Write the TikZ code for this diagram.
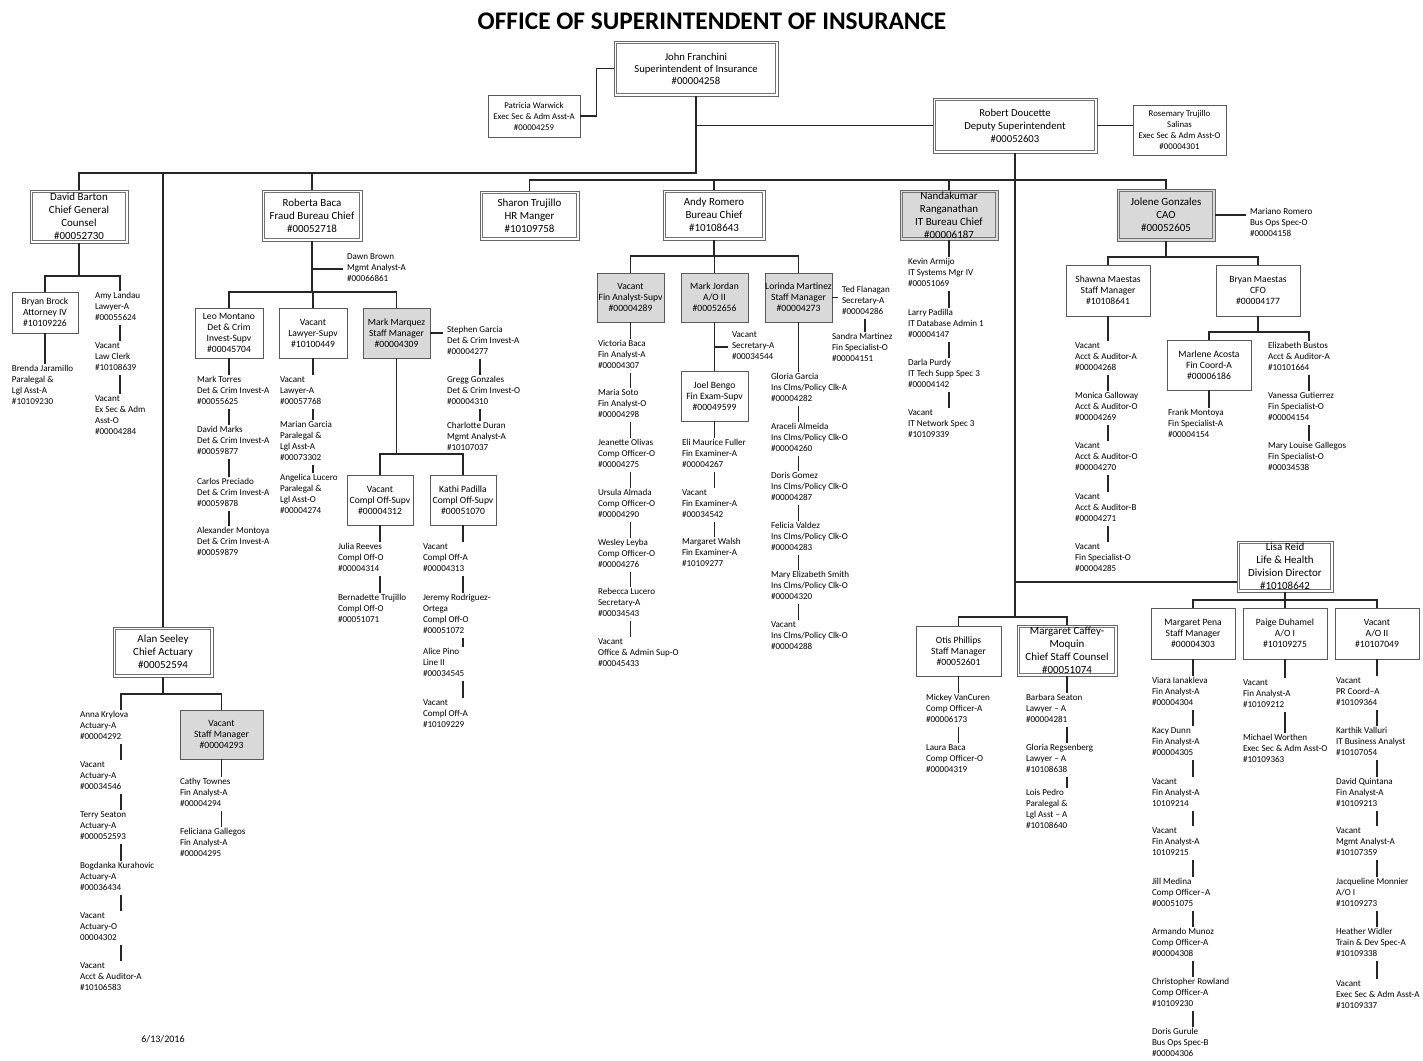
\documentclass[tikz,border=0pt]{standalone}
\usepackage{fontspec}
\setmainfont{Carlito}
\tikzset{
  sbox/.style={draw=black!65, line width=0.5pt, fill=white, align=center, inner sep=0pt, font=\fontsize{7.2}{8.25}\selectfont},
  gbox/.style={sbox, fill=black!15},
  dbox/.style={draw=black!60, line width=0.6pt, fill=white, align=center, inner sep=0pt, font=\fontsize{8.2}{9.75}\selectfont,
    path picture={\draw[black!55, line width=0.5pt] ([shift={(1.7pt,-1.7pt)}]path picture bounding box.north west) rectangle ([shift={(-1.7pt,1.7pt)}]path picture bounding box.south east);}},
  dgbox/.style={dbox, fill=black!15},
  txt/.style={anchor=north west, align=left, inner sep=0pt, outer xsep=3pt, font=\fontsize{6.8}{8.25}\selectfont},
  conn/.style={line width=1.1pt, black!85},
  ttl/.style={font=\fontsize{19}{22}\selectfont\bfseries, inner sep=0pt}
}
\newcommand\obox[7]{\node[#6, minimum width={(#4-#2)*0.75pt}, minimum height={(#5-#3)*0.75pt}] (#1) at ({(#2+#4)/2},{(#3+#5)/2}) {#7};}
\newcommand\tblk[4]{\node[txt] (#1) at ({#2-4},{#3-5}) {\strut#4\strut};}
\newcommand\chain[2]{\foreach \a/\b in {#2} {\draw (\a.south -| #1) -- (\b.north -| #1);}}
\begin{document}
\begin{tikzpicture}[x=0.75pt,y=-0.75pt]
\fill[white] (0,0) rectangle (1423,1060);
\useasboundingbox (0,0) rectangle (1423,1060);

\node[ttl] (title) at (712,21) {OFFICE OF SUPERINTENDENT OF INSURANCE};

% ---------- boxes
\obox{john}{614}{41}{778}{96}{dbox,font=\fontsize{8}{9}\selectfont}{John Franchini\\Superintendent of Insurance\\\#00004258}
\obox{patricia}{488}{95}{580}{137}{sbox,font=\fontsize{6.6}{8.25}\selectfont}{Patricia Warwick\\Exec Sec \& Adm Asst-A\\\#00004259}
\obox{robert}{933}{98}{1097}{153}{dbox,font=\fontsize{8}{9.75}\selectfont}{Robert Doucette\\Deputy Superintendent\\\#00052603}
\obox{rosemary}{1133}{105}{1226}{155}{sbox,font=\fontsize{6.6}{8.25}\selectfont}{Rosemary Trujillo\\Salinas\\Exec Sec \& Adm Asst-O\\\#00004301}
\obox{david}{30}{190}{128}{243}{dbox}{David Barton\\Chief General\\Counsel\\\#00052730}
\obox{roberta}{262}{190}{362}{241}{dbox}{Roberta Baca\\Fraud Bureau Chief\\\#00052718}
\obox{sharon}{480}{191}{579}{240}{dbox}{Sharon Trujillo\\HR Manger\\\#10109758}
\obox{andy}{663}{190}{765}{240}{dbox}{Andy Romero\\Bureau Chief\\\#10108643}
\obox{nanda}{900}{190}{998}{240}{dgbox}{Nandakumar\\Ranganathan\\IT Bureau Chief\\\#00006187}
\obox{jolene}{1117}{189}{1215}{241}{dgbox}{Jolene Gonzales\\CAO\\\#00052605}
\obox{alan}{113}{627}{213}{677}{dbox}{Alan Seeley\\Chief Actuary\\\#00052594}
\obox{lisa}{1237}{541}{1333}{592}{dbox}{Lisa Reid\\Life \& Health\\Division Director\\\#10108642}
\obox{caffey}{1017}{625}{1117}{676}{dbox}{Margaret Caffey-\\Moquin\\Chief Staff Counsel\\\#00051074}

\obox{bbrock}{12}{292}{78}{333}{sbox}{Bryan Brock\\Attorney IV\\\#10109226}
\obox{leo}{195}{308}{263}{358}{sbox}{Leo Montano\\Det \& Crim\\Invest-Supv\\\#00045704}
\obox{vlaw}{279}{308}{347}{358}{sbox}{Vacant\\Lawyer-Supv\\\#10100449}
\obox{marquez}{363}{308}{430}{358}{gbox}{Mark Marquez\\Staff Manager\\\#00004309}
\obox{vcompl}{347}{475}{413}{525}{sbox}{Vacant\\Compl Off-Supv\\\#00004312}
\obox{kathi}{430}{475}{496}{525}{sbox}{Kathi Padilla\\Compl Off-Supv\\\#00051070}
\obox{vfin}{597}{273}{664}{322}{gbox}{Vacant\\Fin Analyst-Supv\\\#00004289}
\obox{jordan}{681}{273}{748}{322}{gbox}{Mark Jordan\\A/O II\\\#00052656}
\obox{lorinda}{765}{273}{832}{322}{gbox}{Lorinda Martinez\\Staff Manager\\\#00004273}
\obox{joel}{681}{371}{748}{421}{sbox}{Joel Bengo\\Fin Exam-Supv\\\#00049599}
\obox{shawna}{1066}{265}{1150}{316}{sbox}{Shawna Maestas\\Staff Manager\\\#10108641}
\obox{bmaestas}{1216}{265}{1300}{316}{sbox}{Bryan Maestas\\CFO\\\#00004177}
\obox{marlene}{1167}{340}{1251}{390}{sbox}{Marlene Acosta\\Fin Coord-A\\\#00006186}
\obox{vstaff}{180}{710}{263}{759}{gbox}{Vacant\\Staff Manager\\\#00004293}
\obox{otis}{916}{626}{1001}{676}{sbox}{Otis Phillips\\Staff Manager\\\#00052601}
\obox{pena}{1151}{608}{1235}{659}{sbox}{Margaret Pena\\Staff Manager\\\#00004303}
\obox{paige}{1243}{608}{1327}{659}{sbox}{Paige Duhamel\\A/O I\\\#10109275}
\obox{vao}{1335}{608}{1419}{659}{sbox}{Vacant\\A/O II\\\#10107049}

% ---------- text blocks
\tblk{brenda}{12}{369}{Brenda Jaramillo\\Paralegal \&\\Lgl Asst-A\\\#10109230}
\tblk{amy}{95}{296}{Amy Landau\\Lawyer-A\\\#00055624}
\tblk{lawclerk}{95}{346}{Vacant\\Law Clerk\\\#10108639}
\tblk{exsec}{95}{399}{Vacant\\Ex Sec \& Adm\\Asst-O\\\#00004284}

\tblk{anna}{80}{715}{Anna Krylova\\Actuary-A\\\#00004292}
\tblk{act2}{80}{765}{Vacant\\Actuary-A\\\#00034546}
\tblk{terry}{80}{815}{Terry Seaton\\Actuary-A\\\#000052593}
\tblk{bogdanka}{80}{866}{Bogdanka Kurahovic\\Actuary-A\\\#00036434}
\tblk{act5}{80}{916}{Vacant\\Actuary-O\\00004302}
\tblk{act6}{80}{966}{Vacant\\Acct \& Auditor-A\\\#10106583}
\tblk{cathy}{180}{782}{Cathy Townes\\Fin Analyst-A\\\#00004294}
\tblk{feliciana}{180}{832}{Feliciana Gallegos\\Fin Analyst-A\\\#00004295}
\node[font=\fontsize{7.5}{9}\selectfont, inner sep=0pt] (date) at (163,1039) {6/13/2016};

\tblk{dawn}{347}{257}{Dawn Brown\\Mgmt Analyst-A\\\#00066861}
\tblk{mtorres}{197}{380}{Mark Torres\\Det \& Crim Invest-A\\\#00055625}
\tblk{dmarks}{197}{430}{David Marks\\Det \& Crim Invest-A\\\#00059877}
\tblk{cpreciado}{197}{482}{Carlos Preciado\\Det \& Crim Invest-A\\\#00059878}
\tblk{amontoya}{197}{531}{Alexander Montoya\\Det \& Crim Invest-A\\\#00059879}
\tblk{lawyera}{280}{380}{Vacant\\Lawyer-A\\\#00057768}
\tblk{mgarcia}{280}{425}{Marian Garcia\\Paralegal \&\\Lgl Asst-A\\\#00073302}
\tblk{alucero}{280}{478}{Angelica Lucero\\Paralegal \&\\Lgl Asst-O\\\#00004274}
\tblk{sgarcia}{447}{330}{Stephen Garcia\\Det \& Crim Invest-A\\\#00004277}
\tblk{ggonzales}{447}{380}{Gregg Gonzales\\Det \& Crim Invest-O\\\#00004310}
\tblk{cduran}{447}{426}{Charlotte Duran\\Mgmt Analyst-A\\\#10107037}
\tblk{jreeves}{338}{547}{Julia Reeves\\Compl Off-O\\\#00004314}
\tblk{btrujillo}{338}{598}{Bernadette Trujillo\\Compl Off-O\\\#00051071}
\tblk{vcompla}{423}{547}{Vacant\\Compl Off-A\\\#00004313}
\tblk{jeremy}{423}{598}{Jeremy Rodriguez-\\Ortega\\Compl Off-O\\\#00051072}
\tblk{apino}{423}{652}{Alice Pino\\Line II\\\#00034545}
\tblk{vcompla2}{423}{703}{Vacant\\Compl Off-A\\\#10109229}

\tblk{vbaca}{598}{344}{Victoria Baca\\Fin Analyst-A\\\#00004307}
\tblk{msoto}{598}{393}{Maria Soto\\Fin Analyst-O\\\#00004298}
\tblk{jolivas}{598}{443}{Jeanette Olivas\\Comp Officer-O\\\#00004275}
\tblk{ualmada}{598}{493}{Ursula Almada\\Comp Officer-O\\\#00004290}
\tblk{wleyba}{598}{543}{Wesley Leyba\\Comp Officer-O\\\#00004276}
\tblk{rlucero}{598}{592}{Rebecca Lucero\\Secretary-A\\\#00034543}
\tblk{voffice}{598}{642}{Vacant\\Office \& Admin Sup-O\\\#00045433}
\tblk{vsec}{732}{335}{Vacant\\Secretary-A\\\#00034544}
\tblk{efuller}{682}{443}{Eli Maurice Fuller\\Fin Examiner-A\\\#00004267}
\tblk{vexam}{682}{493}{Vacant\\Fin Examiner-A\\\#00034542}
\tblk{mwalsh}{682}{542}{Margaret Walsh\\Fin Examiner-A\\\#10109277}
\tblk{tflanagan}{842}{290}{Ted Flanagan\\Secretary-A\\\#00004286}
\tblk{smartinez}{832}{337}{Sandra Martinez\\Fin Specialist-O\\\#00004151}
\tblk{ggarcia}{771}{377}{Gloria Garcia\\Ins Clms/Policy Clk-A\\\#00004282}
\tblk{aalmeida}{771}{427}{Araceli Almeida\\Ins Clms/Policy Clk-O\\\#00004260}
\tblk{dgomez}{771}{476}{Doris Gomez\\Ins Clms/Policy Clk-O\\\#00004287}
\tblk{fvaldez}{771}{526}{Felicia Valdez\\Ins Clms/Policy Clk-O\\\#00004283}
\tblk{msmith}{771}{575}{Mary Elizabeth Smith\\Ins Clms/Policy Clk-O\\\#00004320}
\tblk{vclk}{771}{625}{Vacant\\Ins Clms/Policy Clk-O\\\#00004288}

\tblk{karmijo}{908}{262}{Kevin Armijo\\IT Systems Mgr IV\\\#00051069}
\tblk{lpadilla}{908}{313}{Larry Padilla\\IT Database Admin 1\\\#00004147}
\tblk{dpurdy}{908}{363}{Darla Purdy\\IT Tech Supp Spec 3\\\#00004142}
\tblk{vnet}{908}{413}{Vacant\\IT Network Spec 3\\\#10109339}

\tblk{mromero}{1250}{212}{Mariano Romero\\Bus Ops Spec-O\\\#00004158}
\tblk{vacct1}{1075}{346}{Vacant\\Acct \& Auditor-A\\\#00004268}
\tblk{mgalloway}{1075}{396}{Monica Galloway\\Acct \& Auditor-O\\\#00004269}
\tblk{vacct2}{1075}{446}{Vacant\\Acct \& Auditor-O\\\#00004270}
\tblk{vacct3}{1075}{497}{Vacant\\Acct \& Auditor-B\\\#00004271}
\tblk{vfinspec}{1075}{547}{Vacant\\Fin Specialist-O\\\#00004285}
\tblk{fmontoya}{1168}{413}{Frank Montoya\\Fin Specialist-A\\\#00004154}
\tblk{ebustos}{1268}{346}{Elizabeth Bustos\\Acct \& Auditor-A\\\#10101664}
\tblk{vgutierrez}{1268}{396}{Vanessa Gutierrez\\Fin Specialist-O\\\#00004154}
\tblk{mlgallegos}{1268}{446}{Mary Louise Gallegos\\Fin Specialist-O\\\#00034538}

\tblk{mvancuren}{926}{698}{Mickey VanCuren\\Comp Officer-A\\\#00006173}
\tblk{lbaca}{926}{748}{Laura Baca\\Comp Officer-O\\\#00004319}
\tblk{bseaton}{1026}{698}{Barbara Seaton\\Lawyer – A\\\#00004281}
\tblk{gregsenberg}{1026}{748}{Gloria Regsenberg\\Lawyer – A\\\#10108638}
\tblk{lpedro}{1026}{793}{Lois Pedro\\Paralegal \&\\Lgl Asst – A\\\#10108640}

\tblk{vianakleva}{1152}{681}{Viara Ianakleva\\Fin Analyst-A\\\#00004304}
\tblk{kdunn}{1152}{731}{Kacy Dunn\\Fin Analyst-A\\\#00004305}
\tblk{vfa1}{1152}{782}{Vacant\\Fin Analyst-A\\10109214}
\tblk{vfa2}{1152}{831}{Vacant\\Fin Analyst-A\\10109215}
\tblk{jmedina}{1152}{882}{Jill Medina\\Comp Officer–A\\\#00051075}
\tblk{amunoz}{1152}{932}{Armando Munoz\\Comp Officer-A\\\#00004308}
\tblk{crowland}{1152}{982}{Christopher Rowland\\Comp Officer-A\\\#10109230}
\tblk{dgurule}{1152}{1032}{Doris Gurule\\Bus Ops Spec-B\\\#00004306}
\tblk{vfa3}{1243}{683}{Vacant\\Fin Analyst-A\\\#10109212}
\tblk{mworthen}{1243}{738}{Michael Worthen\\Exec Sec \& Adm Asst-O\\\#10109363}
\tblk{vpr}{1336}{681}{Vacant\\PR Coord–A\\\#10109364}
\tblk{kvalluri}{1336}{731}{Karthik Valluri\\IT Business Analyst\\\#10107054}
\tblk{dquintana}{1336}{782}{David Quintana\\Fin Analyst-A\\\#10109213}
\tblk{vmgmt}{1336}{831}{Vacant\\Mgmt Analyst-A\\\#10107359}
\tblk{jmonnier}{1336}{882}{Jacqueline Monnier\\A/O I\\\#10109273}
\tblk{hwidler}{1336}{932}{Heather Widler\\Train \& Dev Spec-A\\\#10109338}
\tblk{vexec}{1336}{984}{Vacant\\Exec Sec \& Adm Asst-A\\\#10109337}

% ---------- connectors
\begin{scope}[conn]
\coordinate (jb) at (0,173);
\coordinate (rb) at (0,180);
\coordinate (ob) at (0,617);
\coordinate (lb) at (0,582);
\draw (patricia.east) -- ++(16,0) |- (john.west);
\draw (john.south) -- (john.south |- jb) -| (david.north);
\draw (alan.north) -- (alan.north |- jb);
\draw (roberta.north) -- (roberta.north |- jb);
\draw (john.south |- robert.west) -- (robert.west);
\draw (robert.east) -- (robert.east -| rosemary.west);
\draw (robert.south) -- (robert.south |- ob);
\draw (sharon.north) |- (jolene.north |- rb) -- (jolene.north);
\draw (andy.north) -- (andy.north |- rb);
\draw (nanda.north) -- (nanda.north |- rb);
\draw (robert.south |- lb) -- (lisa.west |- lb);
\draw (otis.north) |- (caffey.north |- ob) -- (caffey.north);

% David
\coordinate (db) at (0,276);
\coordinate (camy) at (120,0);
\draw (david.south) -- (david.south |- db);
\draw (bbrock.north) |- (camy |- db) -- (camy |- amy.north);
\draw (bbrock.south) -- (bbrock.south |- brenda.north);
\chain{camy}{amy/lawclerk,lawclerk/exsec}

% Alan
\coordinate (ab) at (0,694);
\coordinate (canna) at (121,0);
\draw (alan.south) -- (alan.south |- ab);
\draw (canna |- anna.north) |- (vstaff.north |- ab) -- (vstaff.north);
\chain{canna}{anna/act2,act2/terry,terry/bogdanka,bogdanka/act5,act5/act6}
\draw (vstaff.south) -- (vstaff.south |- cathy.north);
\chain{vstaff}{cathy/feliciana}

% Roberta
\coordinate (rbb) at (0,292);
\draw (roberta.south) -- (roberta.south |- rbb);
\draw (roberta.south |- dawn.west) -- (dawn.west);
\draw (leo.north) |- (marquez.north |- rbb) -- (marquez.north);
\draw (vlaw.north) -- (vlaw.north |- rbb);
\draw (leo.south) -- (leo.south |- mtorres.north);
\chain{leo}{mtorres/dmarks,dmarks/cpreciado,cpreciado/amontoya}
\draw (vlaw.south) -- (vlaw.south |- lawyera.north);
\chain{vlaw}{lawyera/mgarcia,mgarcia/alucero}
\draw (marquez.east) -- (marquez.east -| sgarcia.west);
\coordinate (csg) at (480,0);
\chain{csg}{sgarcia/ggonzales,ggonzales/cduran}
\coordinate (cb) at (0,454);
\draw (marquez.south) -- (marquez.south |- cb);
\draw (vcompl.north) |- (kathi.north |- cb) -- (kathi.north);
\draw (vcompl.south) -- (vcompl.south |- jreeves.north);
\chain{vcompl}{jreeves/btrujillo}
\draw (kathi.south) -- (kathi.south |- vcompla.north);
\chain{kathi}{vcompla/jeremy,jeremy/apino,apino/vcompla2}

% Andy
\coordinate (anb) at (0,256);
\draw (andy.south) -- (andy.south |- anb);
\draw (vfin.north) |- (lorinda.north |- anb) -- (lorinda.north);
\draw (jordan.north) -- (jordan.north |- anb);
\draw (vfin.south) -- (vfin.south |- vbaca.north);
\chain{vfin}{vbaca/msoto,msoto/jolivas,jolivas/ualmada,ualmada/wleyba,wleyba/rlucero,rlucero/voffice}
\draw (jordan.south) -- (joel.north);
\draw (jordan.south |- vsec.west) -- (vsec.west);
\draw (joel.south) -- (joel.south |- efuller.north);
\chain{joel}{efuller/vexam,vexam/mwalsh}
\draw (lorinda.east) -- (lorinda.east -| tflanagan.west);
\coordinate (ctf) at (865,0);
\chain{ctf}{tflanagan/smartinez}
\draw (lorinda.south) -- (lorinda.south |- ggarcia.north);
\chain{lorinda}{ggarcia/aalmeida,aalmeida/dgomez,dgomez/fvaldez,fvaldez/msmith,msmith/vclk}

% Nandakumar
\draw (nanda.south) -- (nanda.south |- karmijo.north);
\chain{nanda}{karmijo/lpadilla,lpadilla/dpurdy,dpurdy/vnet}

% Jolene
\draw (jolene.east) -- (jolene.east -| mromero.west);
\coordinate (jgb) at (0,257);
\draw (jolene.south) -- (jolene.south |- jgb);
\draw (shawna.north) |- (bmaestas.north |- jgb) -- (bmaestas.north);
\draw (shawna.south) -- (shawna.south |- vacct1.north);
\chain{shawna}{vacct1/mgalloway,mgalloway/vacct2,vacct2/vacct3,vacct3/vfinspec}
\coordinate (bmb) at (0,332);
\coordinate (cbus) at (1309,0);
\draw (bmaestas.south) -- (bmaestas.south |- bmb);
\draw (marlene.north) |- (cbus |- bmb) -- (cbus |- ebustos.north);
\draw (marlene.south) -- (marlene.south |- fmontoya.north);
\chain{cbus}{ebustos/vgutierrez,vgutierrez/mlgallegos}

% Lisa
\coordinate (lsb) at (0,600);
\draw (lisa.south) -- (lisa.south |- lsb);
\draw (pena.north) |- (vao.north |- lsb) -- (vao.north);
\draw (paige.north) -- (paige.north |- lsb);
\draw (pena.south) -- (pena.south |- vianakleva.north);
\chain{pena}{vianakleva/kdunn,kdunn/vfa1,vfa1/vfa2,vfa2/jmedina,jmedina/amunoz,amunoz/crowland,crowland/dgurule}
\draw (paige.south) -- (paige.south |- vfa3.north);
\chain{paige}{vfa3/mworthen}
\draw (vao.south) -- (vao.south |- vpr.north);
\chain{vao}{vpr/kvalluri,kvalluri/dquintana,dquintana/vmgmt,vmgmt/jmonnier,jmonnier/hwidler,hwidler/vexec}

% Otis / Caffey
\draw (otis.south) -- (otis.south |- mvancuren.north);
\chain{otis}{mvancuren/lbaca}
\draw (caffey.south) -- (caffey.south |- bseaton.north);
\chain{caffey}{bseaton/gregsenberg,gregsenberg/lpedro}
\end{scope}
\end{tikzpicture}
\end{document}
